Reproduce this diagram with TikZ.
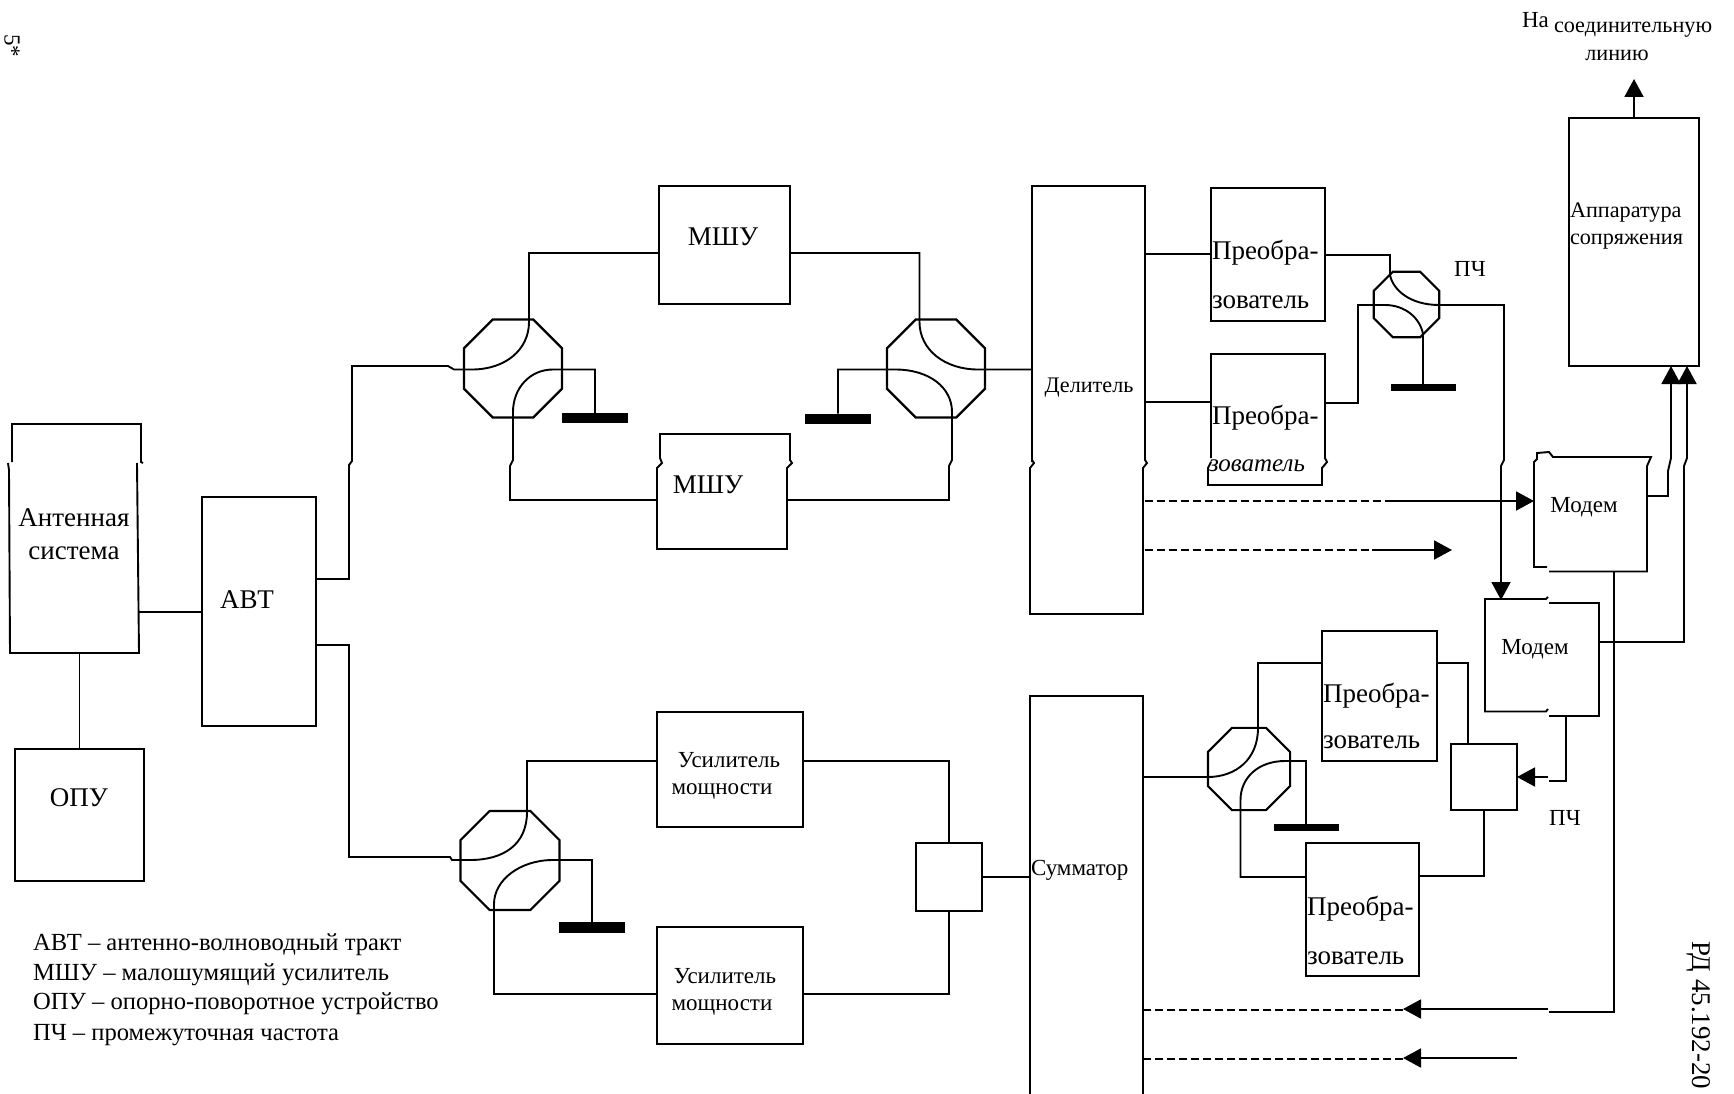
\documentclass[tikz,border=0pt]{standalone}
\usepackage{fontspec}
\setmainfont{Liberation Serif}
\usetikzlibrary{arrows.meta,shapes.geometric}
\newcommand{\boxat}[6][]{\pgfmathsetmacro\bw{#5-#3}\pgfmathsetmacro\bh{#6-#4}\node[block,#1,minimum width=\bw pt,minimum height=\bh pt] (#2) at ({(#3+#5)/2},{(#4+#6)/2}) {};}
\newcommand{\octat}[4]{\node[coupler,minimum size=#4pt] (#1) at (#2,#3) {};}
\tikzset{
  block/.style={draw=black,line width=1.9pt,inner sep=0pt,outer sep=0pt,fill=none},
  ghost/.style={draw=none},
  outline/.style={draw=black,line width=1.9pt,line join=miter},
  coupler/.style={draw=black,line width=2.2pt,regular polygon,regular polygon sides=8,inner sep=0pt,outer sep=0pt},
  wire/.style={draw=black,line width=1.9pt,line join=miter},
  dashwire/.style={wire,dash pattern=on 8pt off 4pt},
  tip/.style={wire,-{Triangle[length=18pt,width=19pt]}},
  gnd/.style={fill=black,draw=none,inner sep=0pt,outer sep=0pt},
  lbl/.style={inner sep=0pt,outer sep=0pt,font=\fontsize{27}{27}\selectfont},
  lbs/.style={inner sep=0pt,outer sep=0pt,font=\fontsize{23}{23}\selectfont},
  lbm/.style={inner sep=0pt,outer sep=0pt,font=\fontsize{22.2}{22.2}\selectfont},
  lbl left/.style={lbl,anchor=west},
  legend/.style={inner sep=0pt,outer sep=0pt,anchor=west,font=\fontsize{24.6}{24.6}\selectfont},
}
\begin{document}
\begin{tikzpicture}[x=1pt,y=-1pt]
\useasboundingbox (0,0) rectangle (1734,1094);
\fill[white] (0,0) rectangle (1734,1094);
% --- plain blocks
\boxat{opu}{15}{749}{144}{881}
\boxat{avt}{202}{497}{316}{726}
\boxat{mshua}{659}{186}{790}{304}
\boxat{usa}{657}{712}{803}{827}
\boxat{usb}{657}{927}{803}{1044}
\boxat{summ}{916}{843}{982}{911}
\boxat{pra}{1211}{188}{1325}{321}
\boxat{prc}{1322}{631}{1437}{761}
\boxat{prd}{1306}{843}{1419}{976}
\boxat{mix}{1451}{744}{1517}{810}
\boxat{app}{1569}{118}{1699}{366}
% --- blocks cut across by the scan
\boxat[ghost]{ant}{10}{424}{139}{653}
\draw[outline] (12,462) -- (12,424) -- (141,424) -- (141,462) -- (143,463);
\draw[outline] (8,463) -- (9,470) -- (10,653) -- (139,653) -- (137,463);
\boxat[ghost]{mshub}{657}{434}{787}{549}
\draw[outline] (660,458) -- (660,434) -- (790,434) -- (790,460) -- (792,463) -- (787,468) -- (787,549) -- (657,549) -- (657,468) -- (662,463) -- (660,458);
\boxat[ghost]{delit}{1032}{186}{1145}{614}
\draw[outline] (1032,462) -- (1032,186) -- (1145,186) -- (1145,460) -- (1147,463) -- (1143,468) -- (1143,614) -- (1030,614) -- (1030,468) -- (1034,463) -- (1032,460);
\boxat[ghost]{prb}{1211}{354}{1325}{485}
\draw[outline] (1211,458) -- (1211,354) -- (1325,354) -- (1325,458) -- (1327,462) -- (1322,468) -- (1322,485) -- (1208,485) -- (1208,468) -- (1211,462);
\boxat[ghost]{moda}{1534}{457}{1647}{571}
\draw[outline] (1547,567) -- (1534,567) -- (1534,462) -- (1537,459) -- (1537,453) -- (1549,452) -- (1553,457) -- (1651,457) -- (1647,466) -- (1647,571.5) -- (1549,571.5);
\boxat[ghost]{modb}{1485}{599}{1599}{716}
\draw[outline] (1548,597) -- (1546,599) -- (1485,599) -- (1485,711.5) -- (1546,711.5) -- (1548,709);
\draw[outline] (1549,603) -- (1599,603) -- (1599,716) -- (1549,716);
% sum block: runs off the page
\coordinate (sumtl) at (1030,696);
\coordinate (sumtr) at (1143,696);
\draw[outline] (1030,1094) -- (sumtl) -- (sumtr) -- (1143,1094);
% --- couplers
\octat{octa}{513}{368.5}{106}
\octat{octb}{936}{368.5}{106}
\octat{octc}{1406.5}{304.5}{71}
\octat{octd}{1249}{769}{89}
\octat{octe}{510}{860.5}{107}
% --- terminations
\node[gnd,minimum width=66pt,minimum height=10pt] (gnda) at (595,418) {};
\node[gnd,minimum width=66pt,minimum height=10pt] (gndb) at (838,418.5) {};
\node[gnd,minimum width=65pt,minimum height=7pt] (gndc) at (1423,387.5) {};
\node[gnd,minimum width=65pt,minimum height=7pt] (gndd) at (1306,827.5) {};
\node[gnd,minimum width=66pt,minimum height=11pt] (gnde) at (592,927.5) {};
% --- connectors: left part
\draw[wire] (opu.north) -- (opu.north |- ant.south);
\draw[wire] (ant.east |- 0,612) -- (avt.west |- 0,612);
% upper path
\draw[wire] (avt.east |- 0,579) -- (349,579) -- (349,465) -- (352,461) -- (352,366) -- (448,366) -- (454,369.5) -- (octa.west |- 0,369.5) -- (472,369.5) .. controls (505,369.5) and (529,350) .. (529,322) -- (529,253) -- (mshua.west |- 0,253);
\draw[wire] (gnda.north) -- (595,369.5) -- (553,369.5) .. controls (530,369.5) and (513,388) .. (513,412) -- (513,460) -- (510,466) -- (510,500) -- (mshub.west |- 0,500);
\draw[wire] (mshua.east |- 0,253) -- (919.5,253) -- (919.5,322) .. controls (919.5,350) and (945,369.5) .. (978,369.5) -- (delit.west |- 0,369.5);
\draw[wire] (gndb.north) -- (838,369.5) -- (895,369.5) .. controls (930,369.5) and (952,388) .. (952,412) -- (952,460) -- (949,466) -- (949,500) -- (mshub.east |- 0,500);
% lower path
\draw[wire] (avt.east |- 0,645) -- (349,645) -- (349,857) -- (450,857) -- (452,860) -- (octe.west |- 0,860) -- (470,860) .. controls (503,860) and (527,845) .. (527,812) -- (527,761) -- (usa.west |- 0,761);
\draw[wire] (gnde.north) -- (592,860) -- (553,860) .. controls (520,860) and (494,880) .. (494,904) -- (494,994) -- (usb.west |- 0,994);
\draw[wire] (usa.east |- 0,761) -- (949,761) -- (summ.north);
\draw[wire] (usb.east |- 0,994) -- (949,994) -- (summ.south);
\draw[wire] (summ.east) -- (1030,877);
% --- right part, receive
\draw[wire] (delit.east |- 0,254) -- (pra.west |- 0,254);
\draw[wire] (delit.east |- 0,402) -- (prb.west |- 0,402);
\draw[wire] (pra.east |- 0,255) -- (1390,255) -- (1390,275) .. controls (1393,290) and (1410,305) .. (octc.east |- 0,305);
\draw[tip] (octc.east |- 0,305) -- (1504,305) -- (1504,460) -- (1501,466) -- (1501,600);
\draw[wire] (prb.east |- 0,403) -- (1358,403) -- (1358,305) -- (octc.west |- 0,305) -- (1385,305) .. controls (1405,305) and (1420,318) .. (1423,334) -- (gndc.north);
\draw[dashwire] (delit.east |- 0,501) -- (1385,501);
\draw[tip] (1385,501) -- (moda.west |- 0,501);
\coordinate (openb) at (1452,550);
\draw[dashwire] (delit.east |- 0,550) -- (1372,550);
\draw[tip] (1372,550) -- (openb);
\draw[tip] (app.north) -- (1634,79);
\draw[tip] (moda.east |- 0,496) -- (1668,496) -- (1668,471) -- (1671,458) -- (1671,366);
\draw[tip] (modb.east |- 0,642) -- (1684,642) -- (1684,466) -- (1687,458) -- (1687,366);
% --- right part, transmit
\draw[wire] (1614,571.5) -- (1614,1012) -- (1549,1012);
\coordinate (sumin) at (1143,1010);
\draw[tip] (1548,1009) -- (1403,1009);
\draw[dashwire] (1403,1010) -- (sumin);
\coordinate (openc) at (1517,1058);
\coordinate (sumind) at (1143,1059);
\draw[tip] (openc) -- (1403,1058);
\draw[dashwire] (1403,1059) -- (sumind);
\draw[wire] (1143,777) -- (octd.west |- 0,777) .. controls (1235,777) and (1258,760) .. (1258,728) -- (1258,663) -- (prc.west |- 0,663);
\draw[wire] (gndd.north) -- (1306,761) -- (1285,761) .. controls (1258,761) and (1240.5,778) .. (1240.5,800) -- (1240.5,877) -- (prd.west |- 0,877);
\draw[wire] (prc.east |- 0,663) -- (1468,663) -- (1468,744);
\draw[wire] (prd.east |- 0,876) -- (1484,876) -- (mix.south);
\draw[wire] (1566,716) -- (1566,781) -- (1549,781);
\draw[tip] (1548,777) -- (mix.east);
% --- labels
\node[lbl] (tant) at (74,518) {Антенная};
\node[lbl] (tsys) at (74,553) {система};
\node[lbl] (tavt) at (247,600) {АВТ};
\node[lbl] (topu) at (79,798) {ОПУ};
\node[lbl] (tma) at (723,237) {МШУ};
\node[lbl] (tmb) at (708,485) {МШУ};
\node[lbs] (tua) at (729,760) {Усилитель};
\node[lbs] (tuam) at (722,791) {мощности};
\node[lbs] (tub) at (725,976) {Усилитель};
\node[lbs] (tubm) at (722,1007) {мощности};
\node[lbm] (tdel) at (1089,388) {Делитель};
\node[lbs,anchor=west] (tsum) at (1031,870) {Сумматор};
\node[lbl left] (tpa) at (1212,253) {Преобра-};
\node[lbl left] (tpaz) at (1212,302) {зователь};
\node[lbl left] (tpb) at (1212,418) {Преобра-};
\node[lbl left,font=\fontsize{25}{25}\itshape\selectfont] (tpbz) at (1209,466) {зователь};
\node[lbl left] (tpc) at (1323,696) {Преобра-};
\node[lbl left] (tpcz) at (1323,742) {зователь};
\node[lbl left] (tpd) at (1307,909) {Преобра-};
\node[lbl left] (tpdz) at (1307,958) {зователь};
\node[lbs] (tmoda) at (1584,507) {Модем};
\node[lbs] (tmodb) at (1535,649) {Модем};
\node[lbs] (tpchar) at (1470,269) {ПЧ};
\node[lbs] (tpchb) at (1565,818) {ПЧ};
\node[lbm,anchor=west] (tapp) at (1570,213) {Аппаратура};
\node[lbm,anchor=west] (tsop) at (1570,242) {сопряжения};
\node[lbs,anchor=west] (tna) at (1522,20) {На};
\node[lbm,anchor=west] (tsoed) at (1554,30) {соединительную};
\node[lbm] (tlin) at (1617,55) {линию};
\node[legend] (la) at (33,945) {АВТ – антенно-волноводный тракт};
\node[legend] (lb) at (33,975) {МШУ – малошумящий усилитель};
\node[legend] (lc) at (33,1004) {ОПУ – опорно-поворотное устройство};
\node[legend] (ld) at (33,1035) {ПЧ – промежуточная частота};
\node[lbl,rotate=-90,anchor=west] (trd) at (1699,941) {РД 45.192-20};
\node[lbs,rotate=-90] (tfive) at (12,46) {5*};
\end{tikzpicture}
\end{document}
